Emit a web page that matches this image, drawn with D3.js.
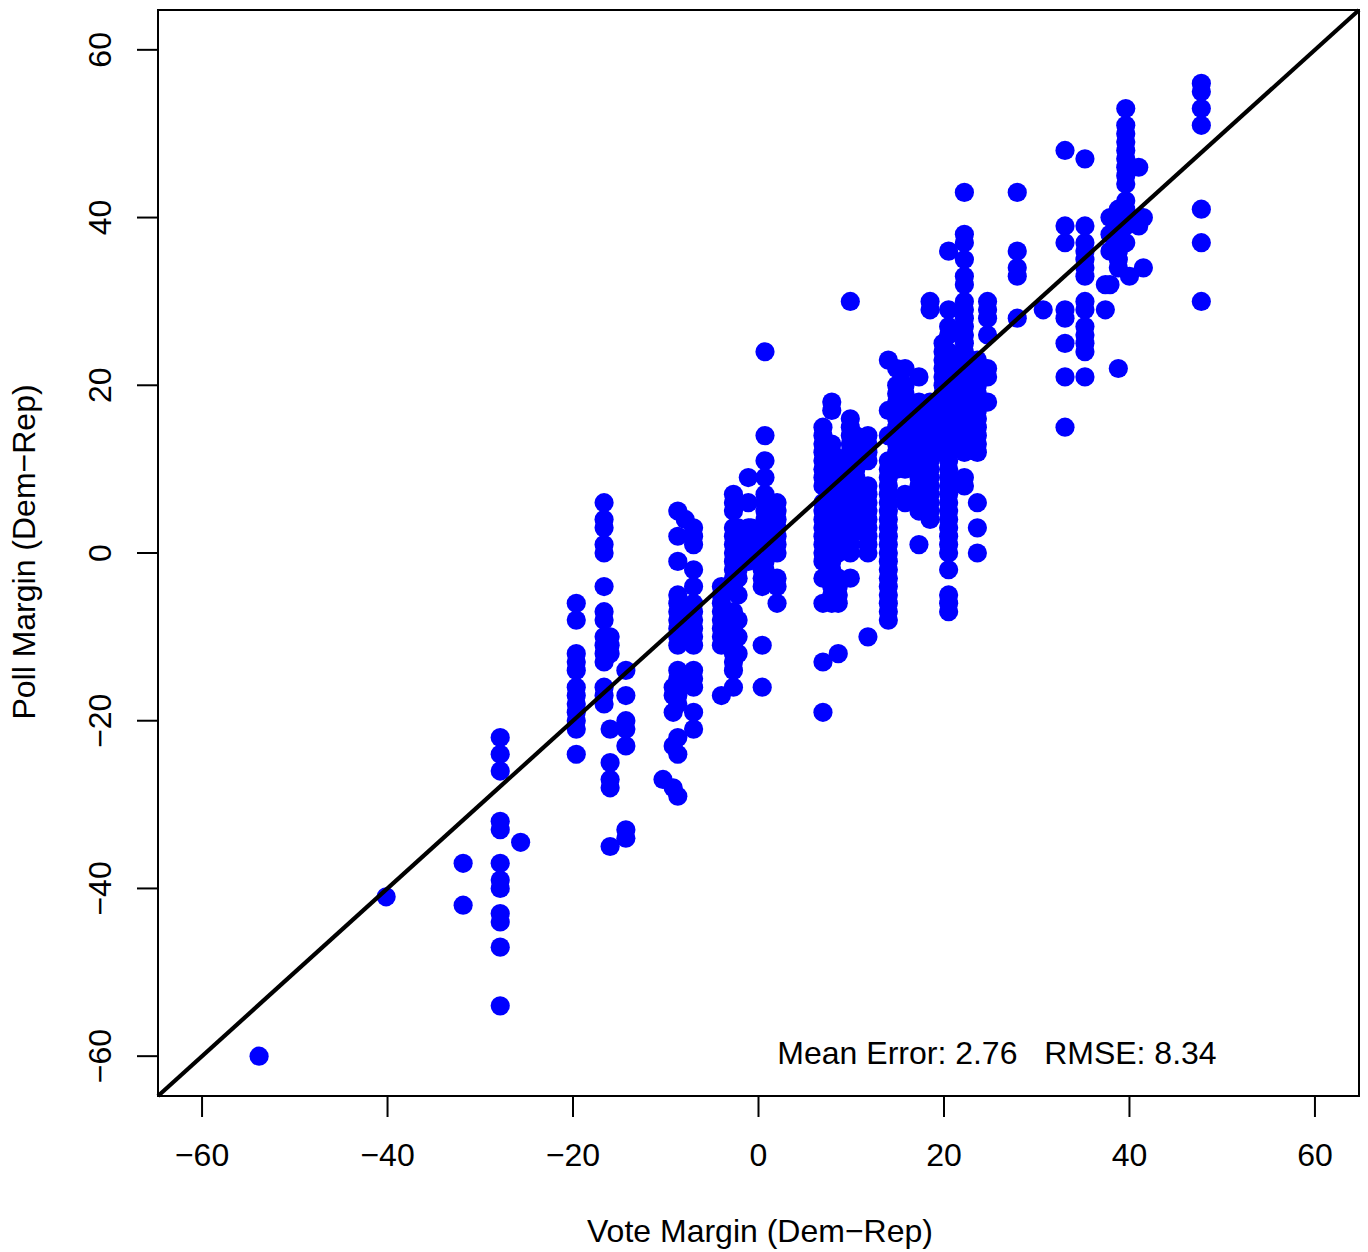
<!DOCTYPE html>
<html><head><meta charset="utf-8">
<script src="https://cdnjs.cloudflare.com/ajax/libs/d3/7.8.5/d3.min.js"></script>
<style>html,body{margin:0;padding:0;background:#fff}svg{display:block}text{font-family:"Liberation Sans",Arial,sans-serif;fill:#000}</style>
</head><body><svg id="c" width="1368" height="1252"></svg>
<script>
const xTicks=[-60,-40,-20,0,20,40,60];
const yTicks=[-60,-40,-20,0,20,40,60];
const xLabel="Vote Margin (Dem\u2212Rep)";
const yLabel="Poll Margin (Dem\u2212Rep)";
const note="Mean Error: 2.76   RMSE: 8.34";
const voteMargins=[-53.85,-40.15,-31.85,-27.85,-25.65,-19.65,-16.65,-16,-14.3,-10.3,-9.2,-8.7,-7.9,-7,-4,-2.7,-2.2,-1.1,-0.8,0.4,0.7,2,6.95,7.9,8.6,9.9,10.5,11.8,14,14.9,15.8,17.3,18.5,19.9,20.5,22.2,23.6,24.7,27.9,30.7,33.05,35.2,37.4,37.9,38.8,39.6,40,41,41.5,47.75];
const pollMargins=[
[-60],[-41],[-37,-42],
[-22,-24,-26,-32,-33,-37,-39,-40,-43,-44,-47,-54],
[-34.5],
[-6,-8,-12,-13,-14,-16,-17,-18,-19,-20,-21,-24],
[6,4,3,1,0,-4,-7,-8,-10,-11,-12,-13,-16,-17,-18],
[-10,-11,-12,-21,-25,-27,-28,-35],
[-14,-17,-20,-21,-23,-33,-34],
[-27],
[-16,-17,-19,-23,-28],
[5,2,-1,-5,-6,-7,-8,-9,-10,-11,-14,-15,-16,-17,-18,-22,-24,-29],
[4],
[3,2,1,-2,-4,-6,-7,-8,-9,-10,-11,-14,-15,-16,-19,-21],
[-4,-5,-6,-7,-8,-9,-10,-11,-17],
[7,6,5,3,2,1,0,-1,-2,-3,-4,-7,-8,-9,-10,-11,-12,-13,-14,-16],
[3,2,1,0,-1,-2,-3,-5,-8,-10,-12],
[9,6,3,2,1,0,-1],
[3,2,1,0],
[-4,-3,-2,-11,-16],
[24,14,11,9,7,6,5,4,3,2,1,-1,-2],
[6,5,4,3,2,1,0,-3,-4,-6],
[15,14,13,12,11,10,9,8,6,5,4,3,2,1,0,-1,-3,-6,-13,-19],
[18,17,13,12,10,9,8,7,6,5,4,3,2,1,-1,-2,-4,-5,-6],
[11,10,9,8,7,6,5,4,3,2,1,0,-3,-4,-5,-6,-12],
[30,16,15,14,13,12,11,10,9,8,7,6,5,4,3,2,1,0,-3],
[14,13,12,11,10,9,8,7,6,5,4,3],
[14,13,12,11,8,7,6,5,4,3,2,1,0,-10],
[23,17,14,11,10,9,8,7,6,5,4,3,2,1,0,-1,-2,-3,-4,-5,-6,-7,-8],
[22,20,19,18,17,16,15,14,13,12,11,10],
[22,20,19,18,17,16,15,14,13,12,11,10,7,6],
[21,18,17,16,15,14,13,12,11,10,9,8,7,6,5,1],
[30,29,18,17,16,15,14,13,12,11,10,9,8,7,6,5,4],
[25,24,23,22,21,20,19,18,17,16,15,14,13,12],
[36,29,27,26,24,23,22,21,20,19,18,17,16,15,14,13,12,11,10,9,8,7,6,5,4,3,2,1,0,-2,-5,-6,-7],
[43,38,37,35,33,32,30,29,28,27,26,25,24,23,22,21,20,19,18,17,16,15,14,13,12,9,8],
[23,22,21,20,19,18,17,16,15,14,13,12,6,3,0],
[30,29,28,26,22,21,18],
[43,36,34,33,28],
[29],
[48,39,37,29,28,25,21,15],
[47,39,37,36,35,34,33,30,29,27,26,25,24,21],
[32,29],
[40,38,36,32],
[41,39,38,37,36,35,34,22],
[53,51,50,49,48,47,46,45,44,42,41,40,39,37],
[33],
[46,39],
[40,34],
[56,55,53,51,41,37,30]
];
const W=1368,H=1252,L=158,R=1359,T=10,B=1096,D=64.75;
const svg=d3.select("#c");
const x=d3.scaleLinear().domain([-D,D]).range([L,R]);
const y=d3.scaleLinear().domain([-D,D]).range([B,T]);
const pts=voteMargins.flatMap((v,i)=>pollMargins[i].map(p=>[v,p]));
svg.append("g").selectAll("circle").data(pts).join("circle")
 .attr("cx",d=>x(d[0])).attr("cy",d=>y(d[1])).attr("r",9.6).attr("fill","#0000ff");
svg.append("line").attr("x1",x(-D)).attr("y1",y(-D)).attr("x2",x(D)).attr("y2",y(D))
 .attr("stroke","#000").attr("stroke-width",4.2);
svg.append("rect").attr("x",L).attr("y",T).attr("width",R-L).attr("height",B-T)
 .attr("fill","none").attr("stroke","#000").attr("stroke-width",2);
const fmt=d=>d<0?"\u2212"+Math.abs(d):""+d;
const xA=svg.append("g").attr("transform",`translate(0,${B})`)
 .call(d3.axisBottom(x).tickValues(xTicks).tickFormat(fmt).tickSize(21).tickPadding(26).offset(0));
const yA=svg.append("g").attr("transform",`translate(${L},0)`)
 .call(d3.axisLeft(y).tickValues(yTicks).tickFormat(fmt).tickSize(21).offset(0));
[xA,yA].forEach(a=>{a.select(".domain").remove();a.selectAll("line").attr("stroke","#000").attr("stroke-width",2);
 a.selectAll("text").style("font-size","32px").attr("fill","#000");});
yA.selectAll("text").attr("x",null).attr("y",null).attr("dy",null)
 .attr("text-anchor","middle").attr("transform","translate(-47,0) rotate(-90)");
svg.append("text").attr("x",760).attr("y",1242).attr("text-anchor","middle").style("font-size","32px").text(xLabel);
svg.append("text").attr("transform","translate(35,552) rotate(-90)").attr("text-anchor","middle").style("font-size","32px").text(yLabel);
svg.append("text").attr("x",997).attr("y",1064).attr("text-anchor","middle").style("font-size","32px").attr("xml:space","preserve").text(note);
</script></body></html>
